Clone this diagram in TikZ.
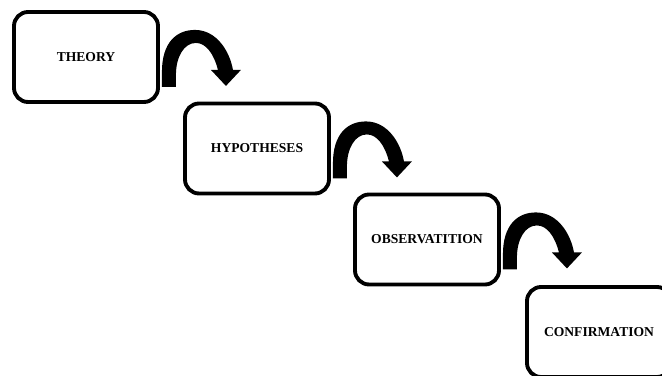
\documentclass[tikz,border=0pt]{standalone}
\usepackage{fontspec}
\setmainfont{Liberation Serif}
\usepackage{tikz}

\begin{document}
\begin{tikzpicture}[x=0.03cm, y=-0.03cm,
    stage/.style ={rectangle, draw, rounded corners=12, line width=3.3pt,
                   minimum width=4.32cm, minimum height=2.7cm,
                   font=\fontsize{11.6}{13}\selectfont\bfseries},
    bend/.pic ={
       \fill (0,0) -- (0,-15) .. controls (0,-45) and (15,-57) .. (33,-57)
             .. controls (55,-57) and (68,-35) .. (71,-17)
             -- (79,-17) -- (64,-1) -- (49,-17) -- (56,-17)
             .. controls (52,-33) and (44,-44) .. (34,-44)
             .. controls (22,-44) and (14,-30) .. (14,-12) -- (14,0) -- cycle;
    }]
   \useasboundingbox (0,0) rectangle (662,376);
   \node[stage] (T) at (86,57)    {THEORY};
   \node[stage] (H) at (257,148.5) {HYPOTHESES};
   \node[stage] (O) at (427,239.5) {OBSERVATITION};
   \node[stage] (C) at (599,332)  {CONFIRMATION};
   \pic at ([shift={(2,-17)}]T.south east) {bend};
   \pic at ([shift={(2,-17)}]H.south east) {bend};
   \pic at ([shift={(2,-17)}]O.south east) {bend};
 \end{tikzpicture}
\end{document}
